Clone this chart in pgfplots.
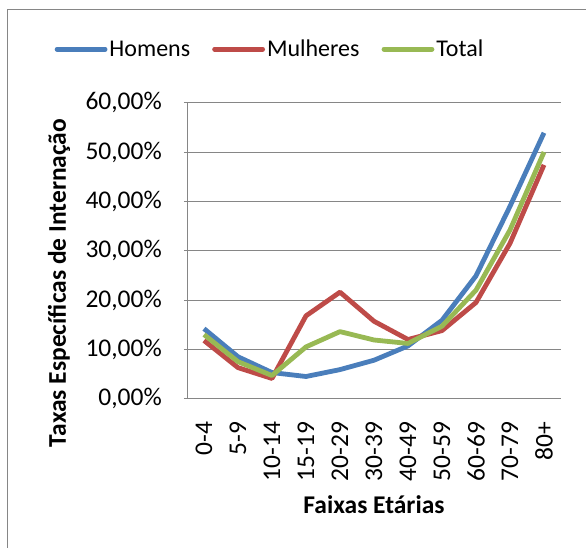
\documentclass[border=0pt]{standalone}
\usepackage{pgfplots}
\pgfplotsset{compat=1.18}
\usepackage{fontspec}
\setmainfont{Carlito}
\definecolor{axgray}{HTML}{868686}
\definecolor{cblue}{HTML}{4A7EBB}
\definecolor{cred}{HTML}{BE4B48}
\definecolor{cgreen}{HTML}{98B954}
\newcommand\cf{\fontsize{25.5}{29}\selectfont}
\newcommand\lf{\fontsize{24}{28}\selectfont}
\begin{document}
\begin{tikzpicture}
\useasboundingbox (-187pt,-148.3pt) rectangle (399pt,398.7pt);
\draw[axgray, line width=1pt] (-179pt,-200pt) -- (-179pt,389.4pt) -- (450pt,389.4pt);
\begin{axis}[
  scale only axis,
  width=374pt, height=296pt,
  xmin=-0.5, xmax=10.5,
  ymin=0, ymax=60,
  clip=false,
  axis x line=bottom, axis y line=left,
  axis line style={-, draw=axgray, line width=0.9pt},
  ymajorgrids,
  grid style={draw=axgray, line width=0.9pt},
  xtick={0,...,10},
  xticklabels={0-4,5-9,10-14,15-19,20-29,30-39,40-49,50-59,60-69,70-79,80+},
  xticklabel style={rotate=90, anchor=east, font=\cf, inner sep=0pt},
  xticklabel shift=20pt,
  x tick style={draw=none},
  extra x ticks={-0.5,0.5,1.5,2.5,3.5,4.5,5.5,6.5,7.5,8.5,9.5,10.5},
  extra x tick labels={},
  extra x tick style={tick style={draw=axgray, line width=0.9pt}, major tick length=8pt, tick align=outside, grid=none},
  ytick={0,10,...,60},
  yticklabels={{0,00\%},{10,00\%},{20,00\%},{30,00\%},{40,00\%},{50,00\%},{60,00\%}},
  yticklabel style={font=\cf, inner sep=0pt, anchor=east},
  yticklabel shift=22pt,
  y tick style={draw=axgray, line width=0.9pt},
  major tick length=6pt,
  ytick align=center,
  xlabel={\bfseries Faixas Etárias},
  xlabel style={font=\cf, at={(axis description cs:0.5,-0.358)}, anchor=center},
  ylabel={\bfseries Taxas Específicas de Internação},
  ylabel style={font=\cf, at={(axis description cs:-0.342,0.391)}, anchor=center, rotate=0},
  legend columns=3,
  legend style={at={(axis description cs:0.222,1.181)}, anchor=center, draw=none, fill=none, font=\lf,
    /tikz/every even column/.append style={column sep=20pt}, inner sep=0pt},
  legend image code/.code={\draw[#1, line cap=round] (0pt,0pt) -- (48pt,0pt);},
  every axis plot/.append style={line width=4.8pt, line join=round, mark=none},
]
\addplot[cblue] coordinates {(0,14.2) (1,8.5) (2,5.3) (3,4.5) (4,5.9) (5,7.8) (6,10.7) (7,15.9) (8,24.9) (9,39.0) (10,53.9)};
\addlegendentry{Homens}
\addplot[cred] coordinates {(0,11.8) (1,6.3) (2,4.1) (3,16.8) (4,21.6) (5,15.7) (6,12.0) (7,13.8) (8,19.5) (9,31.5) (10,47.4)};
\addlegendentry{Mulheres}
\addplot[cgreen] coordinates {(0,13.0) (1,7.5) (2,4.7) (3,10.5) (4,13.6) (5,11.9) (6,11.2) (7,14.7) (8,22.0) (9,34.2) (10,50.0)};
\addlegendentry{Total}
\end{axis}
\end{tikzpicture}
\end{document}
